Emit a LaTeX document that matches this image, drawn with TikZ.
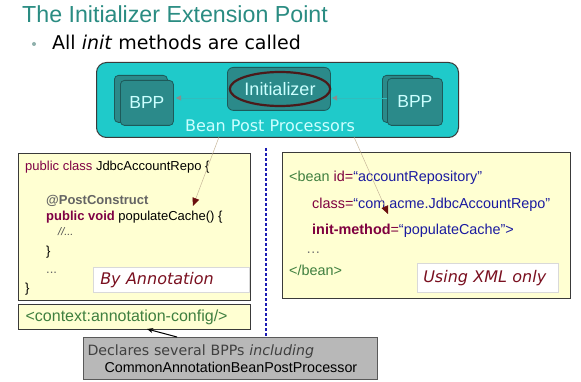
\documentclass[tikz,border=0pt]{standalone}
\usepackage{fontspec}
\setmainfont{Liberation Sans}
\newfontfamily\dvs{DejaVu Sans}
\usetikzlibrary{arrows.meta,shapes.geometric}
\definecolor{titlecol}{HTML}{2A8C82}
\definecolor{bulletcol}{HTML}{8FB0AC}
\definecolor{cyanfill}{HTML}{1FCACA}
\definecolor{cyanline}{HTML}{30BDBD}
\definecolor{tealbox}{HTML}{2B8A8A}
\definecolor{tealborder}{HTML}{1D5A5A}
\definecolor{lightcyan}{HTML}{CCFFFF}
\definecolor{ellcol}{HTML}{4A1A1A}
\definecolor{yellowfill}{HTML}{FFFFD2}
\definecolor{boxborder}{HTML}{3A3A3A}
\definecolor{kw}{HTML}{7F0045}
\definecolor{annot}{HTML}{646464}
\definecolor{xg}{HTML}{3F7F3F}
\definecolor{xa}{HTML}{7F0040}
\definecolor{xv}{HTML}{1A1AA0}
\definecolor{labelred}{HTML}{7A1020}
\definecolor{dotblue}{HTML}{1C1CB4}
\definecolor{grayfill}{HTML}{B8B8B8}
\definecolor{thinline}{HTML}{C8B89A}
\definecolor{tipred}{HTML}{6B0F0F}
\begin{document}
\begin{tikzpicture}[x=1pt,y=-1pt,
  txt/.style={inner sep=0pt, anchor=base west},
  sized/.style={anchor=north west, inner sep=0pt},
  tealbx/.style={sized, fill=tealbox, draw=tealborder, line width=0.8pt, rounded corners=4pt,
     text=lightcyan, font=\fontsize{17.5}{20}\selectfont},
  yellowbx/.style={sized, fill=yellowfill, draw=boxborder, line width=1.3pt},
  labelbx/.style={sized, fill=white, draw=black!15, line width=0.5pt, align=left,
     text=labelred, font=\dvs\itshape\fontsize{16}{19}\selectfont},
  code/.style={txt, font=\fontsize{13}{15}\selectfont},
  xml/.style={txt, font=\fontsize{14.4}{17}\selectfont},
  smallarr/.style={cyanline, line width=0.6pt, -{Triangle[length=5pt,width=5pt,color=black!45]}},
  thinarr/.style={thinline, line width=0.5pt, -{Triangle[length=8pt,width=7pt,color=tipred]}},
  blackarr/.style={black, line width=1pt, -{Stealth[length=6pt,width=5pt]}},
  dotline/.style={dotblue, line width=2.6pt, dash pattern=on 3pt off 2pt}
]
\fill[white] (0,0) rectangle (581,382);
\useasboundingbox (0,0) rectangle (581,382);

% title and bullet
\node[txt, text=titlecol, font=\fontsize{23.2}{26}\selectfont] (title) at (22,23) {The Initializer Extension Point};
\node[circle, fill=bulletcol, inner sep=0pt, minimum size=4pt] (bullet) at (34,44) {};
\node[txt, font=\dvs\fontsize{19}{22}\selectfont] (sub) at (52,50) {All \textit{init} methods are called};

% Bean post processors frame
\node[sized, fill=cyanfill, draw=boxborder, line width=1pt, rounded corners=10pt,
      minimum width=362pt, minimum height=75pt] (bppframe) at (96,62) {};
\node[tealbx, minimum width=53pt, minimum height=47pt] (bppLback) at (114,75) {};
\node[tealbx, minimum width=53pt, minimum height=45pt] (bppLfront) at (120,80) {BPP};
\node[tealbx, minimum width=51pt, minimum height=47pt] (bppRback) at (382,75) {};
\node[tealbx, minimum width=55pt, minimum height=47pt] (bppRfront) at (387,78) {BPP};
\node[tealbx, rounded corners=6pt, minimum width=103pt, minimum height=43pt] (initbox) at (227,67) {};
\node[ellipse, draw=ellcol, line width=2.2pt, inner sep=0pt, minimum width=90pt, minimum height=34pt,
      text=lightcyan, font=\fontsize{18}{20}\selectfont] (initell) at (280,89) {Initializer};
\node[inner sep=0pt, text=lightcyan, font=\dvs\fontsize{16}{18}\selectfont] (bpplabel) at (270,126) {Bean Post Processors};

\coordinate (aL) at (176,98);
\coordinate (aR) at (332,98);
\draw[smallarr] (initbox.west |- aL) -- (aL);
\draw[smallarr] (bppRfront.west |- aR) -- (aR);

% left code box
\node[yellowbx, minimum width=232pt, minimum height=147pt] (annobox) at (18,153) {};
\node[code] (l1) at (25,171) {\textcolor{kw}{public class} JdbcAccountRepo \{};
\node[code] (l2) at (46,205) {\textcolor{annot}{\bfseries @PostConstruct}};
\node[code] (l3) at (46,221) {\textcolor{kw}{\bfseries public void} populateCache() \{};
\node[code, text=black!70, font=\itshape\fontsize{11}{13}\selectfont] (l4) at (58,236) {//...};
\node[code] (l5) at (46,255) {\}};
\node[code, text=black!60] (l6) at (46,273) {...};
\node[code] (l7) at (25,292) {\}};
\node[labelbx, minimum height=25pt, text width=142pt, inner xsep=7pt] (bylabel) at (93,267) {By Annotation};

% right xml box
\node[yellowbx, minimum width=288pt, minimum height=146pt] (xmlbox) at (282,152) {};
\node[xml] (r1) at (289,182) {\textcolor{xg}{<bean} \textcolor{xa}{id=}\textcolor{xv}{“accountRepository”}};
\node[xml] (r2) at (312,209) {\textcolor{xa}{class=}\textcolor{xv}{“com.acme.JdbcAccountRepo”}};
\node[xml] (r3) at (312,235) {\textcolor{xa}{\bfseries init-method}\textcolor{xa}{=}\textcolor{xv}{“populateCache”>}};
\node[xml, text=black!55] (r4) at (306,254) {…};
\node[xml] (r5) at (289,276) {\textcolor{xg}{</bean>}};
\node[labelbx, minimum height=29pt, text width=129pt, inner xsep=6pt] (xmllabel) at (417,263) {Using XML only};

% thin connectors from the BPP frame into the code
\coordinate (pL) at (219,137);
\coordinate (tL) at (193,206);
\coordinate (pR) at (354,137);
\coordinate (tR) at (388,214);
\draw[thinarr] (pL) -- (tL);
\draw[thinarr] (pR) -- (tR);

% context box
\node[yellowbx, minimum width=232pt, minimum height=25pt, align=left, text width=218pt, inner xsep=7pt,
      text=xg, font=\fontsize{16}{18}\selectfont] (ctxbox) at (18,304) {<context:annotation-config/>};

% gray note
\node[sized, fill=grayfill, draw=black!65, line width=1pt, minimum width=294pt, minimum height=42pt,
      align=left, text width=286pt, inner xsep=4pt, font=\fontsize{14.3}{17}\selectfont] (note) at (83,337)
  {{\dvs\fontsize{14.2}{17}\selectfont\color{black!75}Declares several BPPs \textit{including}}\\
   \hspace*{17pt}CommonAnnotationBeanPostProcessor};

% dotted divider
\coordinate (dTop) at (266,148);
\draw[dotline] (dTop) -- (dTop |- note.north);

% arrow from note to context box
\coordinate (gStart) at (177,337);
\coordinate (cTip) at (147,329);
\draw[blackarr] (gStart) -- (cTip);
\end{tikzpicture}
\end{document}
